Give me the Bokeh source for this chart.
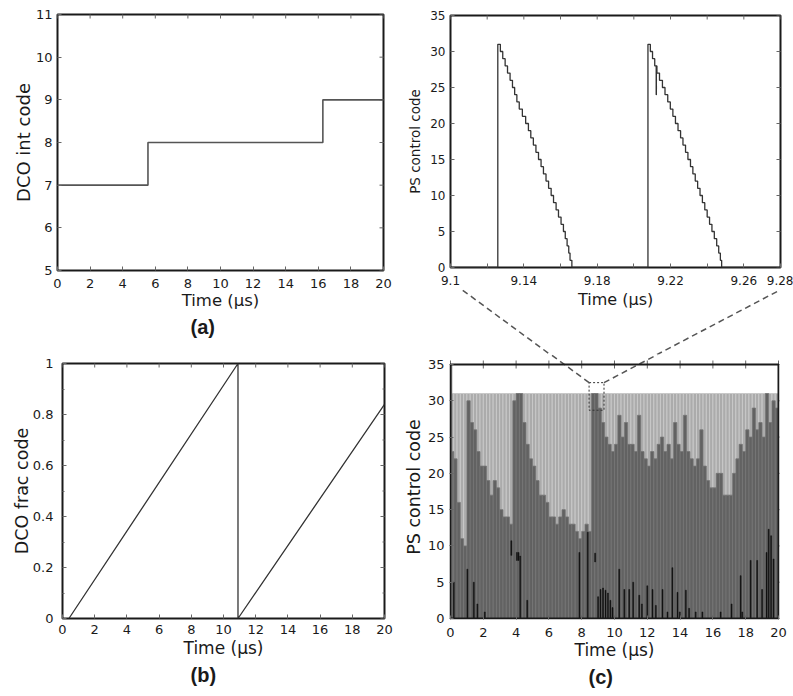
from bokeh.plotting import figure
from bokeh.models import FixedTicker, Title, CustomJSTickFormatter, ColumnDataSource, Range1d
from bokeh.core.properties import value
from bokeh.layouts import column, row
from bokeh.embed import file_html
from bokeh.resources import INLINE

# ---------------- data ----------------
# (a) DCO integer code (step signal)
a_time = [0.0, 5.55, 16.28, 20.0]
a_code = [7, 8, 9, 9]

# (b) DCO fractional code
b_time = [0.4, 10.9, 10.9, 20.0]
b_frac = [0.0, 1.0, 0.0, 0.84]

# zoomed PS control code (time of each new level, level)
z_time = [9.1, 9.1258,
          9.1272, 9.1285, 9.1298, 9.1311, 9.1325, 9.1338, 9.1350, 9.1362, 9.1375, 9.1392,
          9.1410, 9.1425, 9.1438, 9.1452, 9.1466, 9.1480, 9.1494, 9.1507, 9.1521, 9.1535,
          9.1549, 9.1562, 9.1576, 9.1589, 9.1603, 9.1616, 9.1626, 9.1636, 9.1645, 9.1652,
          9.1662,
          9.2077, 9.2090, 9.2102, 9.2114, 9.2122, 9.2123, 9.2126, 9.2140, 9.2156, 9.2170,
          9.2185, 9.2199, 9.2213, 9.2227, 9.2241, 9.2255, 9.2268, 9.2282, 9.2295, 9.2309,
          9.2322, 9.2335, 9.2348, 9.2361, 9.2374, 9.2387, 9.2400, 9.2413, 9.2426, 9.2439,
          9.2452, 9.2463, 9.2472, 9.2479, 9.28]
z_code = [0, 31,
          30, 29, 28, 27, 26, 25, 24, 23, 22, 21,
          20, 19, 18, 17, 16, 15, 14, 13, 12, 11,
          10, 9, 8, 7, 6, 5, 4, 3, 2, 1,
          0,
          31, 30, 29, 28, 24, 28, 27, 26, 25, 24,
          23, 22, 21, 20, 19, 18, 17, 16, 15, 14,
          13, 12, 11, 10, 9, 8, 7, 6, 5, 4,
          3, 2, 1, 0, 0]
z_ticks = [9.1, 9.12, 9.14, 9.16, 9.18, 9.2, 9.22, 9.24, 9.26, 9.28]
z_tick_labels = ["9.1", "", "9.14", "", "9.18", "", "9.22", "", "9.26", "9.28"]

# (c) PS control code over 20 us, summarised per 0.2 us bin
c_bin_width = 0.2
c_top = 31
c_env = [23, 22, 16, 11, 10, 30, 27, 26, 23, 21,
         21, 19, 17, 19, 18, 15, 14, 14, 13, 30,
         31, 31, 27, 24, 22, 21, 19, 17, 17, 16,
         14, 14, 13, 14, 15, 14, 13, 13, 12, 11,
         12, 13, 12, 31, 31, 29, 27, 25, 24, 23,
         24, 28, 25, 27, 24, 24, 23, 28, 23, 22,
         21, 23, 22, 24, 25, 23, 24, 22, 27, 24,
         23, 28, 23, 22, 21, 22, 26, 21, 19, 18,
         18, 20, 20, 17, 17, 17, 20, 22, 24, 23,
         26, 25, 29, 26, 27, 25, 31, 27, 30, 29]
# black low-level bursts: time, bottom, top
c_blk_t = [0.2, 1.03, 1.42, 1.64, 2.09, 3.71, 4.05, 4.15, 4.25, 4.68, 7.86, 8.37, 8.82,
           9.0, 9.15, 9.3, 9.45, 9.6, 9.75, 9.88, 10.29, 10.6, 10.9, 11.14, 11.51, 11.67,
           12.0, 12.32, 12.52, 12.93, 13.23, 13.53, 13.84, 13.98, 14.35, 14.55, 14.95,
           15.36, 16.47, 17.14, 17.69, 17.79, 18.3, 18.7, 19.0, 19.27, 19.4, 19.55, 19.7]
c_blk_lo = [0, 0, 0, 0, 0, 8.7, 8.0, 8.0, 0, 0, 0, 0, 7.8,
            0, 0, 0, 0, 0, 0, 0, 0, 0, 0, 0, 0, 0,
            0, 0, 0, 0, 0, 0, 0, 0, 0, 0, 0,
            0, 0, 0, 0, 0, 0, 0, 0, 0, 0, 0, 0]
c_blk_hi = [5.0, 6.8, 5.0, 2.0, 0.9, 10.7, 9.1, 9.1, 8.6, 2.5, 9.1, 11.9, 9.0,
            3.0, 4.0, 4.2, 3.9, 3.5, 2.5, 1.5, 6.8, 4.0, 4.0, 5.0, 3.2, 2.0,
            4.5, 4.0, 1.8, 4.0, 0.9, 7.0, 3.6, 0.9, 3.9, 1.4, 0.9,
            0.9, 0.9, 2.0, 5.9, 0.9, 8.0, 8.0, 4.0, 9.1, 12.3, 11.4, 8.2]
# zoom window marker in (c) and the two connector lines (in (c) data units)
c_box = dict(x0=8.45, x1=9.36, y0=28.7, y1=32.5)
conn_xs = [[8.45, 0.79], [9.36, 20.12]]
conn_ys = [[32.5, 45.25], [32.5, 45.3]]

# ---------------- helpers ----------------
FONT = "DejaVu Sans"
INK = "#1a1a1a"
TICK = "#666"


def style(p, xticks, yticks, tick_size, xlab, ylab, xlab_size, ylab_size,
          yminor=None, xfmt=None, yfmt=None, xstand=8, ystand=5, ylstand=2, xlstand=0,
          top_edge=None, right_edge=None):
    p.grid.visible = False
    p.outline_line_color = INK
    p.outline_line_width = 2
    p.xaxis.ticker = FixedTicker(ticks=xticks)
    p.yaxis.ticker = FixedTicker(ticks=yticks, minor_ticks=yminor or [])
    if xfmt is not None:
        p.xaxis.formatter = xfmt
    if yfmt is not None:
        p.yaxis.formatter = yfmt
    p.xaxis.axis_label = xlab
    p.yaxis.axis_label = ylab
    for ax in p.axis:
        ax.axis_line_color = None
        ax.major_tick_in = 4
        ax.major_tick_out = 0
        ax.minor_tick_in = 2
        ax.minor_tick_out = 0
        ax.major_tick_line_color = TICK
        ax.minor_tick_line_color = TICK
        ax.major_label_text_font = FONT
        ax.major_label_text_font_size = tick_size
        ax.major_label_text_color = INK
        ax.axis_label_text_font = FONT
        ax.axis_label_text_font_style = "normal"
        ax.axis_label_text_color = INK
    p.xaxis.major_label_standoff = xstand
    p.yaxis.major_label_standoff = ystand
    p.xaxis.axis_label_standoff = xlstand
    p.yaxis.axis_label_standoff = ylstand
    p.xaxis.axis_label_text_font_size = xlab_size
    p.yaxis.axis_label_text_font_size = ylab_size
    # mirrored inward ticks on the top and right edges of the plot box
    y1 = p.y_range.end if top_edge is None else top_edge
    x1 = p.x_range.end if right_edge is None else right_edge
    p.scatter(x=xticks, y=[y1] * len(xticks), marker="dash", size=8, angle=1.5708,
              line_color=TICK, line_width=1)
    p.scatter(x=[x1] * len(yticks), y=yticks, marker="dash", size=8,
              line_color=TICK, line_width=1)
    if yminor:
        p.scatter(x=[x1] * len(yminor), y=yminor, marker="dash", size=4,
                  line_color=TICK, line_width=1)


def caption(p, text, offset):
    p.add_layout(Title(text=text, align="left", offset=offset, text_font="Liberation Sans",
                       text_font_size="20px", text_font_style="bold", text_color=INK,
                       standoff=2), "below")


common = dict(output_backend="svg", toolbar_location=None, title=None, frame_align=False)

LEFT_W, RIGHT_W = 400, 393

# ---------------- (a) ----------------
fa = figure(width=LEFT_W, height=345, x_range=Range1d(0, 20), y_range=Range1d(5, 11),
            min_border_left=57, min_border_right=17, min_border_top=14, min_border_bottom=75,
            **common)
style(fa, list(range(0, 21, 2)), list(range(5, 12)), "13px", "Time (µs)", "DCO int code",
      "16.5px", "18px", ystand=5, ylstand=-1)
fa.step(a_time, a_code, mode="after", line_color="#555", line_width=1.6)
caption(fa, "(a)", 133)

# ---------------- (b) ----------------
bfmt = CustomJSTickFormatter(code="return (Math.round(tick*10)/10).toString();")
fb = figure(width=LEFT_W, height=351, x_range=Range1d(0, 20), y_range=Range1d(0, 1),
            min_border_left=62, min_border_right=16, min_border_top=18, min_border_bottom=78,
            **common)
style(fb, list(range(0, 21, 2)), [0, 0.2, 0.4, 0.6, 0.8, 1.0], "13px", "Time (µs)",
      "DCO frac code", "17px", "17.5px", yminor=[0.1, 0.3, 0.5, 0.7, 0.9], yfmt=bfmt,
      xstand=6, ystand=9, ylstand=-2, xlstand=1)
fb.line(b_time, b_frac, line_color="#333", line_width=1.3)
caption(fb, "(b)", 128)

# ---------------- zoom (top right) ----------------
zfmt = CustomJSTickFormatter(args=dict(zt=z_ticks, zl=z_tick_labels), code="""
let best = 0, d = 1e9;
for (let i = 0; i < zt.length; i++) {
  const e = Math.abs(zt[i] - tick);
  if (e < d) { d = e; best = i; }
}
return zl[best];
""")
fz = figure(width=RIGHT_W, height=289, x_range=Range1d(9.1, 9.28), y_range=Range1d(0, 35),
            min_border_left=50, min_border_right=13, min_border_top=15, min_border_bottom=22,
            **common)
style(fz, z_ticks, list(range(0, 36, 5)), "12px", None, "PS control code",
      "16px", "13.5px", xfmt=zfmt, xstand=8, ystand=5, ylstand=4)
fz.step(z_time, z_code, mode="after", line_color="#333", line_width=1.3)

# ---------------- (c) geometry ----------------
C_BOX_LEFT = 49          # pixel column of t = 0 inside the (c) canvas
C_BOX_W, C_BOX_H = 329, 254
C_EXT_TOP = 10           # extra frame space above the 35 line (room for the connectors)
C_H = 342
M_H = 65                 # strip between the zoom panel and (c)
c_ppx = C_BOX_W / 20.0
c_ppy = C_BOX_H / 35.0
c_x0 = -1 / c_ppx
c_x1 = 20 + 1 / c_ppx
c_y0 = -1 / c_ppy
c_y1 = 35 + C_EXT_TOP / c_ppy
m_top = c_y1 + M_H / c_ppy

# strip carrying the zoom panel's x-axis title and the connector lines
fm = figure(width=RIGHT_W, height=M_H,
            x_range=Range1d(-C_BOX_LEFT / c_ppx, (RIGHT_W - C_BOX_LEFT) / c_ppx),
            y_range=Range1d(c_y1, m_top),
            x_axis_type=None, y_axis_type=None, outline_line_color=None,
            min_border_left=0, min_border_right=0, min_border_top=0, min_border_bottom=0,
            **common)
fm.grid.visible = False
fm.text(x=[10.1], y=[m_top - 9.5 / c_ppy], text=["Time (µs)"],
        text_font=value(FONT), text_font_size="16px", text_align="center",
        text_baseline="middle", text_color=INK)
fm.multi_line(xs=conn_xs, ys=conn_ys, line_color="#555", line_width=1.5, line_dash="6 4")

# ---------------- (c) ----------------
fc = figure(width=RIGHT_W, height=C_H, x_range=Range1d(c_x0, c_x1), y_range=Range1d(c_y0, c_y1),
            min_border_left=C_BOX_LEFT - 1, min_border_right=RIGHT_W - C_BOX_LEFT - C_BOX_W - 1,
            min_border_top=0, min_border_bottom=C_H - (C_BOX_H + C_EXT_TOP + 1), **common)
style(fc, list(range(0, 21, 2)), list(range(0, 36, 5)), "13px", "Time (µs)",
      "PS control code", "17px", "17.5px", xstand=8, ystand=5, ylstand=1,
      top_edge=35, right_edge=20)
fc.outline_line_color = None
c_x = [round(c_bin_width * (i + 0.5), 3) for i in range(len(c_env))]
src = ColumnDataSource(dict(x=c_x, env=c_env, top=[c_top] * len(c_env)))
fc.vbar(x="x", top="top", width=c_bin_width, source=src, fill_color="#ababab",
        line_color="#c8c8c8", line_width=1)
fc.vbar(x="x", top="env", width=c_bin_width, source=src, fill_color="#626262",
        line_color="#767676", line_width=0.8)
fc.segment(x0=[0.05], y0=[0], x1=[0.05], y1=[35], line_color="#8a8a8a", line_width=2)
fc.vbar(x=c_blk_t, bottom=c_blk_lo, top=c_blk_hi, width=0.06, fill_color="#111",
        line_color="#111", line_width=0.5)
fc.quad(left=[c_box["x0"]], right=[c_box["x1"]], bottom=[c_box["y0"]], top=[c_box["y1"]],
        fill_color=None, line_color="#333", line_width=1, line_dash="2 2")
fc.multi_line(xs=conn_xs, ys=conn_ys, line_color="#555", line_width=1.5, line_dash="6 4")
# plot box of (c): t 0..20, code 0..35
fc.line(x=[0, 20, 20, 0, 0], y=[0, 0, 35, 35, 0], line_color=INK, line_width=2)
caption(fc, "(c)", 139)

layout = row(column(fa, fb), column(fz, fm, fc))
open("out.html", "w").write(file_html(layout, INLINE))
